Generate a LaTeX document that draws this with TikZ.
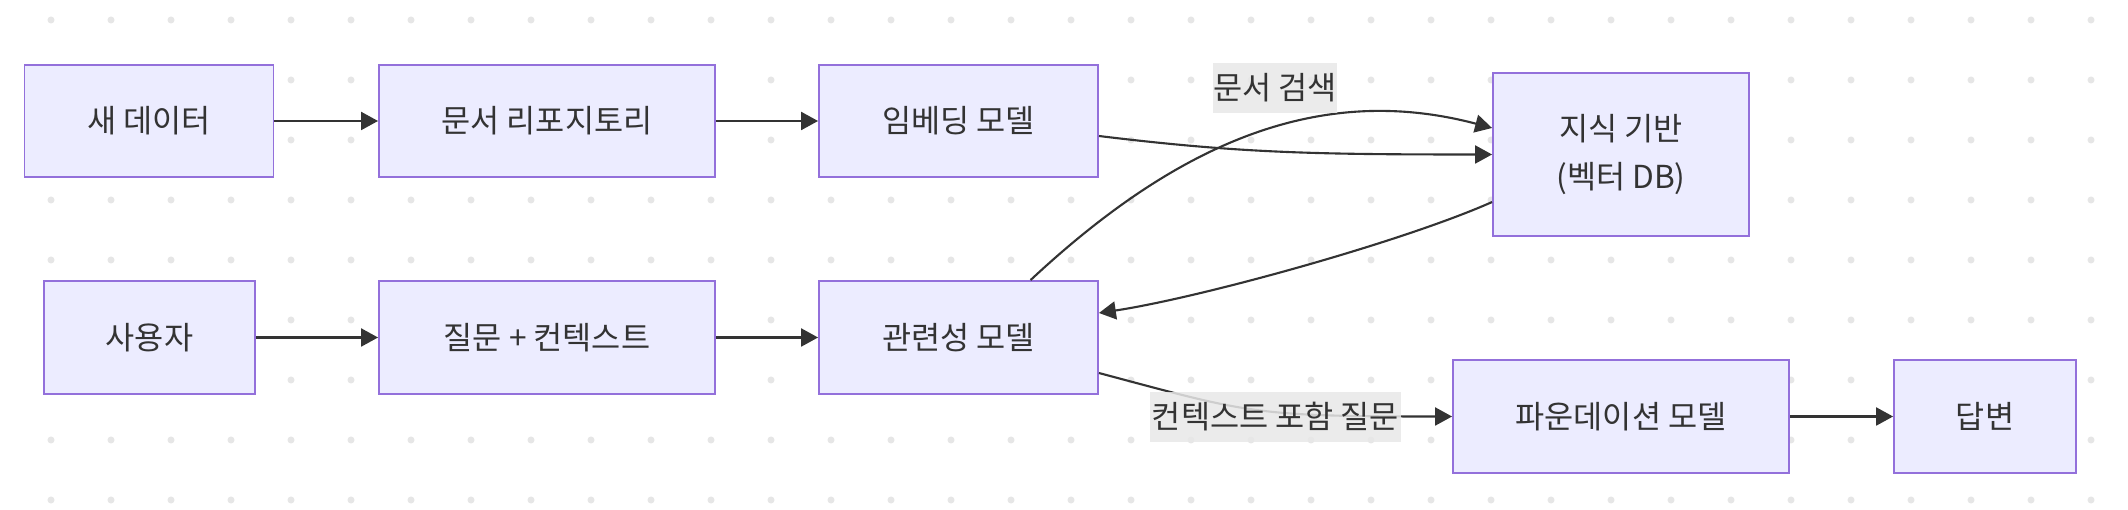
\documentclass[tikz,border=0pt]{standalone}
\usepackage{fontspec}
\setmainfont{Noto Sans CJK KR}
\usetikzlibrary{arrows.meta}
\definecolor{boxfill}{HTML}{ECECFF}
\definecolor{boxline}{HTML}{9370DB}
\definecolor{edgeline}{HTML}{333333}
\definecolor{lblfill}{HTML}{E8E8E8}
\definecolor{dotgray}{HTML}{E6E6E6}
\begin{document}
\begin{tikzpicture}[x=0.01cm,y=-0.01cm,
  blk/.style={draw=boxline,fill=boxfill,line width=0.5pt,text=edgeline,inner sep=0pt,
    minimum height=1.13cm,align=center,font=\fontsize{9}{13.8}\selectfont},
  lbl/.style={fill=lblfill,fill opacity=0.85,text opacity=1,text=edgeline,inner sep=0pt,
    minimum height=0.5cm,font=\fontsize{9}{11}\selectfont},
  arr/.style={draw=edgeline,line width=0.6pt,-{Triangle[length=4.8pt,width=5.1pt]}}]
\fill[white] (0,0) rectangle (2128,510);            % page background
\useasboundingbox (0,0) rectangle (2128,510);
\foreach \x in {51,111,...,2091}                    % dot grid
  \foreach \y in {20,80,...,500}
    \fill[dotgray] (\x,\y) circle (0.035cm);
% upper row
\node[blk,minimum width=2.49cm,minimum height=1.12cm] (new) at (149,121) {새 데이터};
\node[blk,minimum width=3.36cm,minimum height=1.12cm] (repo) at (547,121) {문서 리포지토리};
\node[blk,minimum width=2.79cm,minimum height=1.12cm] (embed) at (958.5,121) {임베딩 모델};
\node[blk,minimum width=2.56cm,minimum height=1.63cm] (kb) at (1621,154.5) {지식 기반\\(벡터 DB)};
% lower row
\node[blk,minimum width=2.11cm] (user) at (149.5,337.5) {사용자};
\node[blk,minimum width=3.36cm] (query) at (547,337.5) {질문 + 컨텍스트};
\node[blk,minimum width=2.79cm] (rel) at (958.5,337.5) {관련성 모델};
\node[blk,minimum width=3.36cm] (found) at (1621,416.5) {파운데이션 모델};
\node[blk,minimum width=1.82cm] (ans) at (1985,416.5) {답변};
% connectors
\draw[arr] (new.east) -- (repo.west);
\draw[arr] (repo.east) -- (embed.west);
\draw[arr] ([yshift=-.15cm]embed.east) .. controls +(140,17) and +(-180,0) .. (kb.west);
\draw[arr] (user.east) -- (query.west);
\draw[arr] (query.east) -- (rel.west);
\draw[arr] ([xshift=.72cm]rel.north) .. controls +(150,-140) and +(-170,-45) .. ([yshift=.265cm]kb.west);
\draw[arr] ([yshift=-.475cm]kb.west) .. controls +(-90,40) and +(100,-15) .. ([yshift=.245cm]rel.east);
\draw[arr] ([yshift=-.355cm]rel.east) .. controls +(150,40) and +(-200,0) .. (found.west);
\draw[arr] (found.east) -- (ans.west);
% edge labels
\node[lbl,minimum width=1.24cm] (search) at (1275,88) {문서 검색};
\node[lbl,minimum width=2.51cm] (ctxq) at (1275.5,417) {컨텍스트 포함 질문};
\end{tikzpicture}
\end{document}
